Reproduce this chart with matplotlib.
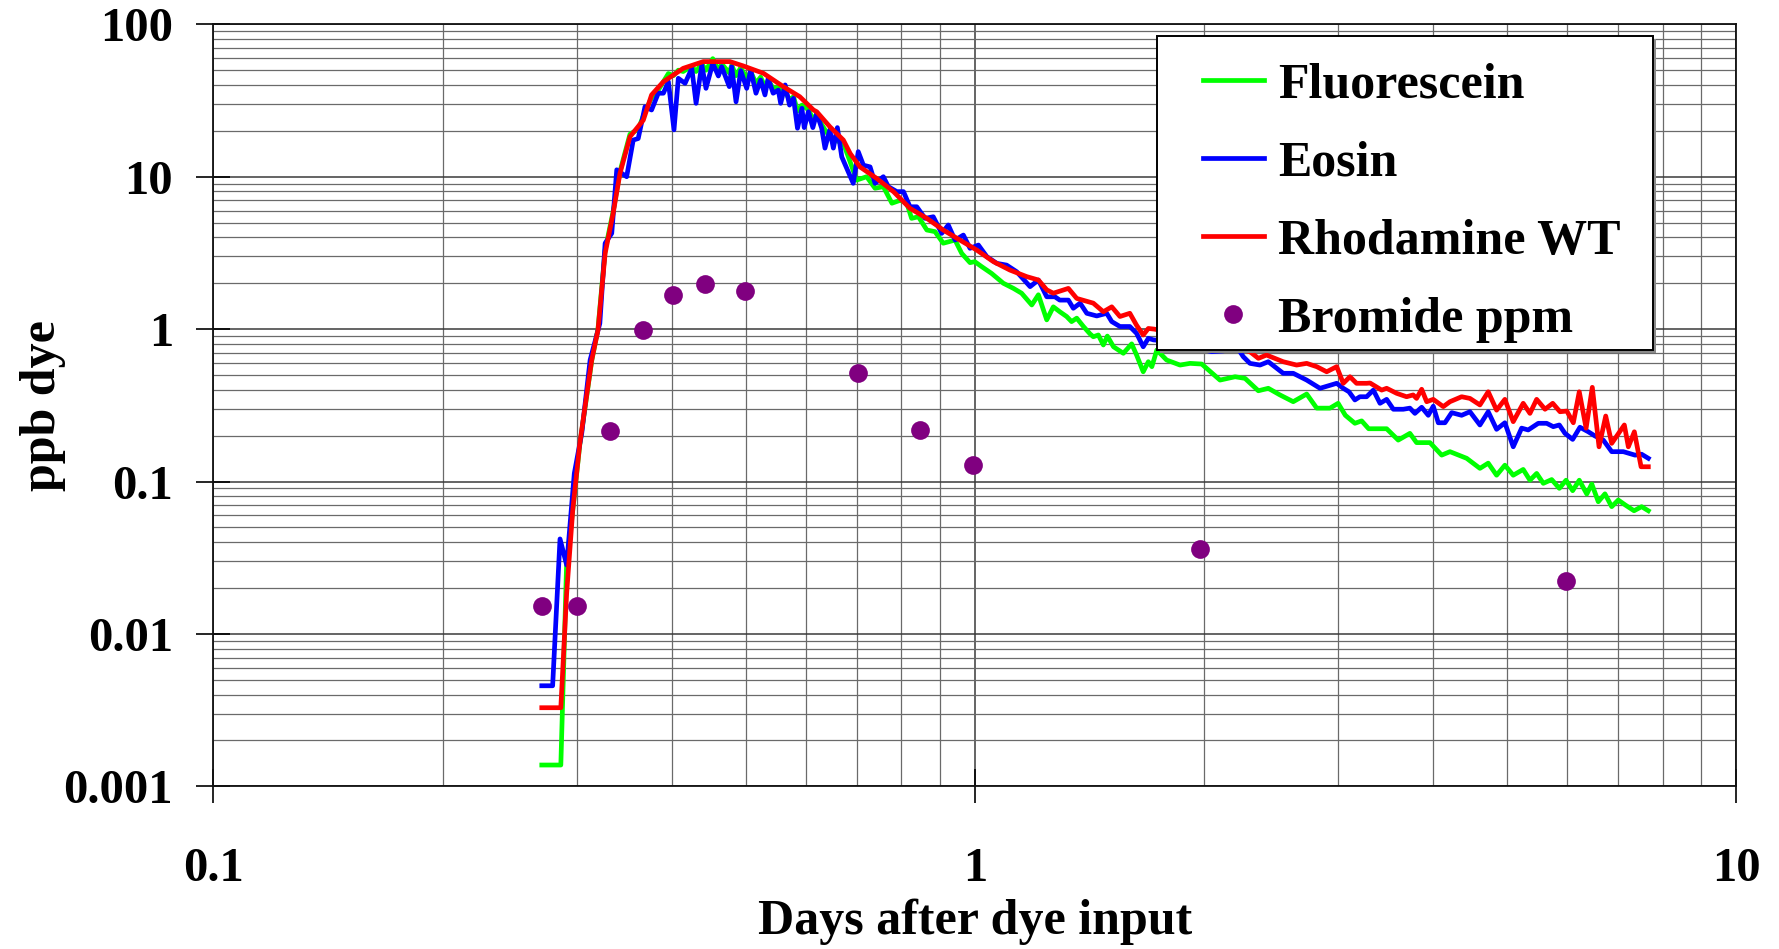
import numpy as np
import matplotlib
matplotlib.use("Agg")
import matplotlib.pyplot as plt
from matplotlib.ticker import LogLocator, NullFormatter, FixedLocator
from matplotlib.patches import Rectangle

# ---------------- data ----------------
fluor_x = [0.270, 0.286, 0.291, 0.2965, 0.3029, 0.314, 0.320, 0.327, 0.335, 0.342, 0.3525, 0.3614, 0.367,
           0.3763, 0.384, 0.390, 0.3959, 0.402, 0.408, 0.414, 0.425, 0.4305, 0.438, 0.4436, 0.4528, 0.4605,
           0.4652, 0.476, 0.4795, 0.4858, 0.4928, 0.5017, 0.5078, 0.516, 0.5233, 0.5302, 0.5354, 0.5435,
           0.552, 0.5636, 0.5711, 0.578, 0.585, 0.5929, 0.6047, 0.6128, 0.620, 0.6294, 0.639, 0.652, 0.672,
           0.686, 0.6995, 0.7211, 0.7396, 0.7584, 0.7783, 0.7981, 0.8143, 0.826, 0.8432, 0.865, 0.8866,
           0.909, 0.942, 0.9612, 0.9856, 1.0, 1.021, 1.052, 1.090, 1.124, 1.152, 1.188, 1.212, 1.243, 1.268,
           1.293, 1.32, 1.34, 1.361, 1.389, 1.417, 1.431, 1.453, 1.475, 1.493, 1.521, 1.567, 1.607, 1.631,
           1.664, 1.69, 1.708, 1.734, 1.786, 1.86, 1.917, 1.986, 2.099, 2.197, 2.264, 2.357, 2.429, 2.516,
           2.619, 2.728, 2.812, 2.927, 3.0, 3.066, 3.156, 3.221, 3.29, 3.474, 3.598, 3.727, 3.803, 3.96,
           4.103, 4.207, 4.425, 4.606, 4.723, 4.844, 4.967, 5.094, 5.25, 5.358, 5.468, 5.579, 5.722, 5.856,
           5.976, 6.097, 6.22, 6.363, 6.46, 6.588, 6.722, 6.861, 6.998, 7.15, 7.34, 7.51, 7.664]
fluor_y = [0.00138, 0.00138, 0.028, 0.065, 0.175, 0.62, 1.0, 3.3, 5.9, 10.8, 19.0, 20.5, 25.0,
           33.0, 37.0, 42.0, 47.5, 46.0, 50.0, 49.0, 53.0, 49.0, 55.0, 50.0, 59.5, 50.0,
           55.0, 48.0, 54.0, 46.0, 52.0, 44.0, 49.0, 41.0, 45.0, 39.0, 43.0, 38.0,
           38.5, 36.0, 32.0, 33.5, 27.0, 29.5, 27.5, 24.0, 25.5, 22.0, 19.5, 17.5, 16.6,
           12.5, 9.5, 10.0, 8.4, 8.6, 6.7, 7.0, 6.7, 5.33, 5.46, 4.47, 4.36,
           3.66, 3.84, 3.14, 2.73, 2.77, 2.57, 2.32, 2.0, 1.85, 1.72, 1.44, 1.68, 1.15, 1.40,
           1.30, 1.21, 1.12, 1.18, 1.04, 0.93, 0.891, 0.915, 0.787, 0.90, 0.766, 0.694, 0.80, 0.676,
           0.525, 0.611, 0.567, 0.729, 0.627, 0.581, 0.596, 0.59, 0.463, 0.487, 0.475, 0.394, 0.409, 0.37,
           0.334, 0.375, 0.303, 0.303, 0.326, 0.272, 0.241, 0.25, 0.222, 0.222, 0.187, 0.207, 0.180, 0.180,
           0.149, 0.157, 0.142, 0.122, 0.132, 0.110, 0.128, 0.110, 0.120, 0.102, 0.113, 0.0973, 0.103, 0.0902,
           0.102, 0.0871, 0.102, 0.0828, 0.0963, 0.0737, 0.083, 0.0684, 0.0756, 0.0701, 0.0643, 0.0684, 0.0643]

eosin_x = [0.270, 0.279, 0.2853, 0.2911, 0.2979, 0.3047, 0.3125, 0.3218, 0.327, 0.3336, 0.3387, 0.349, 0.356,
           0.3614, 0.3689, 0.3763, 0.384, 0.390, 0.3959, 0.4027, 0.408, 0.4164, 0.425, 0.4305, 0.438, 0.4436,
           0.4528, 0.4605, 0.4652, 0.476, 0.4795, 0.4858, 0.4928, 0.5017, 0.5078, 0.516, 0.5233, 0.5302,
           0.5354, 0.5435, 0.552, 0.556, 0.5636, 0.5711, 0.578, 0.585, 0.5929, 0.597, 0.6047, 0.6128, 0.620,
           0.6294, 0.6357, 0.645, 0.652, 0.660, 0.6688, 0.6924, 0.703, 0.714, 0.7286, 0.7396, 0.7584, 0.770,
           0.790, 0.806, 0.822, 0.839, 0.8605, 0.882, 0.9048, 0.923, 0.942, 0.966, 0.9856, 1.011, 1.037,
           1.069, 1.101, 1.135, 1.182, 1.212, 1.243, 1.274, 1.293, 1.327, 1.347, 1.375, 1.403, 1.446, 1.49,
           1.513, 1.551, 1.598, 1.631, 1.664, 1.69, 1.716, 1.80, 1.90, 1.98, 2.047, 2.12, 2.208, 2.252, 2.298,
           2.369, 2.429, 2.541, 2.619, 2.728, 2.84, 2.987, 3.047, 3.10, 3.156, 3.204, 3.27, 3.337, 3.405,
           3.474, 3.545, 3.653, 3.727, 3.784, 3.862, 3.94, 4.0, 4.061, 4.144, 4.229, 4.358, 4.469, 4.606,
           4.723, 4.844, 4.967, 5.094, 5.225, 5.33, 5.495, 5.636, 5.75, 5.856, 5.957, 6.097, 6.233, 6.392,
           6.523, 6.689, 6.861, 7.106, 7.362, 7.51, 7.664]
eosin_y = [0.00457, 0.00457, 0.042, 0.0283, 0.113, 0.208, 0.627, 1.09, 3.66, 4.25, 11.1, 10.0, 17.4,
           17.8, 28.8, 27.4, 35.3, 35.3, 42.0, 20.3, 44.2, 41.0, 51.4, 30.3, 54.1, 38.0,
           55.5, 45.8, 52.7, 39.0, 52.7, 31.0, 49.6, 38.0, 50.1, 35.3, 43.1, 34.4,
           44.2, 35.3, 37.0, 30.3, 40.0, 29.5, 32.7, 20.8, 28.1, 21.0, 26.7, 21.0, 26.1,
           20.8, 15.4, 20.3, 15.4, 21.0, 13.5, 9.05, 14.6, 11.9, 11.6, 9.05, 10.0, 8.6,
           7.98, 7.98, 6.35, 6.35, 5.33, 5.46, 4.25, 4.82, 3.84, 4.14, 3.39, 3.56, 2.99,
           2.70, 2.63, 2.38, 1.90, 2.10, 1.63, 1.63, 1.55, 1.55, 1.37, 1.48, 1.27, 1.22, 1.27,
           1.12, 1.04, 1.04, 0.938, 0.766, 0.870, 0.85, 0.83, 0.78, 0.74, 0.711, 0.72, 0.766, 0.659, 0.596,
           0.581, 0.611, 0.513, 0.513, 0.463, 0.409, 0.441, 0.409, 0.388, 0.343, 0.36, 0.36, 0.398, 0.326,
           0.346, 0.298, 0.298, 0.303, 0.280, 0.307, 0.272, 0.312, 0.243, 0.243, 0.283, 0.272, 0.287, 0.235,
           0.287, 0.220, 0.243, 0.169, 0.224, 0.218, 0.241, 0.241, 0.229, 0.235, 0.207, 0.189, 0.227, 0.212,
           0.199, 0.187, 0.157, 0.157, 0.149, 0.151, 0.142]

rhod_x = [0.270, 0.286, 0.2911, 0.2965, 0.3029, 0.314, 0.320, 0.327, 0.335, 0.342, 0.3525, 0.367, 0.3763,
          0.390, 0.402, 0.414, 0.440, 0.477, 0.4966, 0.5277, 0.5605, 0.589, 0.614, 0.620, 0.645, 0.672,
          0.686, 0.7066, 0.743, 0.782, 0.822, 0.865, 0.909, 0.956, 1.006, 1.058, 1.112, 1.17, 1.212, 1.243,
          1.268, 1.327, 1.361, 1.431, 1.475, 1.513, 1.551, 1.598, 1.631, 1.664, 1.69, 1.72, 1.82, 1.93,
          2.05, 2.18, 2.298, 2.357, 2.416, 2.541, 2.646, 2.728, 2.812, 2.898, 2.987, 3.047, 3.109, 3.172,
          3.27, 3.304, 3.422, 3.474, 3.581, 3.69, 3.764, 3.803, 3.862, 3.921, 4.0, 4.123, 4.207, 4.358,
          4.469, 4.606, 4.723, 4.844, 4.967, 5.094, 5.25, 5.358, 5.468, 5.608, 5.74, 5.868, 5.99, 6.109,
          6.22, 6.35, 6.47, 6.603, 6.738, 6.861, 7.128, 7.215, 7.347, 7.498, 7.664]
rhod_y = [0.00328, 0.00328, 0.0185, 0.065, 0.178, 0.627, 0.986, 3.14, 5.75, 10.5, 18.3, 23.5, 34.4,
          42.0, 46.5, 51.4, 56.9, 56.9, 53.3, 47.7, 39.0, 33.5, 27.4, 26.7, 21.3, 17.4,
          14.2, 11.6, 9.76, 7.98, 6.2, 5.33, 4.47, 3.84, 3.30, 2.77, 2.44, 2.21, 2.10, 1.81,
          1.72, 1.85, 1.59, 1.48, 1.30, 1.40, 1.21, 1.27, 1.06, 0.915, 1.01, 1.0, 0.95, 0.88,
          0.82, 0.76, 0.711, 0.643, 0.676, 0.611, 0.581, 0.596, 0.567, 0.525, 0.567, 0.441, 0.487, 0.441,
          0.441, 0.443, 0.398, 0.409, 0.379, 0.360, 0.37, 0.351, 0.403, 0.334, 0.346, 0.310, 0.334, 0.360,
          0.351, 0.318, 0.388, 0.294, 0.346, 0.247, 0.326, 0.280, 0.346, 0.298, 0.326, 0.287, 0.29, 0.243,
          0.388, 0.224, 0.415, 0.169, 0.269, 0.178, 0.235, 0.169, 0.212, 0.125, 0.125]

bromide_x = [0.27, 0.30, 0.332, 0.367, 0.402, 0.442, 0.499, 0.702, 0.848, 0.996, 1.978, 5.97]
bromide_y = [0.0153, 0.0153, 0.215, 0.99, 1.67, 1.98, 1.79, 0.513, 0.218, 0.128, 0.036, 0.0223]

x_ticks = [0.1, 1, 10]
x_tick_labels = ["0.1", "1", "10"]
y_ticks = [0.001, 0.01, 0.1, 1, 10, 100]
y_tick_labels = ["0.001", "0.01", "0.1", "1", "10", "100"]

# ---------------- figure ----------------
plt.rcParams['font.family'] = ['Liberation Serif', 'DejaVu Serif']
plt.rcParams['font.weight'] = 'bold'

fig = plt.figure(figsize=(17.79, 9.49), dpi=100)
ax = fig.add_axes([0.1199, 0.1714, 0.8561, 0.8030])

ax.set_xscale('log')
ax.set_yscale('log')
ax.set_xlim(0.1, 10)
ax.set_ylim(0.001, 100)

ax.set_axisbelow(True)
ax.grid(True, which='major', color='#3a3a3a', linewidth=1.1)
ax.grid(True, which='minor', color='#6a6a6a', linewidth=0.9)

lw = 3.4
ax.plot(fluor_x, fluor_y, color='#00ff00', lw=lw, label='Fluorescein', solid_joinstyle='round', zorder=3)
ax.plot(eosin_x, eosin_y, color='#0000ff', lw=lw, label='Eosin', solid_joinstyle='round', zorder=4)
ax.plot(rhod_x, rhod_y, color='#ff0000', lw=lw, label='Rhodamine WT', solid_joinstyle='round', zorder=5)
ax.plot(bromide_x, bromide_y, linestyle='none', marker='o', markersize=13.5,
        color='#800080', markeredgewidth=0, label='Bromide ppm', zorder=6)

ax.xaxis.set_major_locator(FixedLocator(x_ticks))
ax.set_xticklabels(x_tick_labels)
ax.yaxis.set_major_locator(FixedLocator(y_ticks))
ax.set_yticklabels(y_tick_labels)
ax.xaxis.set_minor_locator(LogLocator(base=10, subs=np.arange(2, 10), numticks=50))
ax.yaxis.set_minor_locator(LogLocator(base=10, subs=np.arange(2, 10), numticks=50))
ax.xaxis.set_minor_formatter(NullFormatter())
ax.yaxis.set_minor_formatter(NullFormatter())

ax.tick_params(axis='both', which='major', direction='inout', length=24, width=1.2,
               color='black', labelsize=35)
ax.tick_params(axis='y', which='major', pad=17)
ax.tick_params(axis='x', which='major', pad=32)
ax.tick_params(axis='both', which='minor', length=0)
for lab in ax.get_xticklabels() + ax.get_yticklabels():
    lab.set_fontweight('bold')

for s in ax.spines.values():
    s.set_color('#111111')
    s.set_linewidth(1.3)

ax.set_xlabel('Days after dye input', fontsize=36, fontweight='bold', labelpad=5)
ax.set_ylabel('ppb dye', fontsize=36, fontweight='bold', labelpad=-2)

# legend box (frame drawn separately so its padding matches the original)
fx0, fx1 = 0.6196, 0.9453
fy0, fy1 = 0.5726, 0.9846
shadow = Rectangle((fx0 + 0.0020, fy0 - 0.0040), fx1 - fx0, fy1 - fy0, transform=ax.transAxes,
                   facecolor='#8a8a8a', edgecolor='none', zorder=8.9, clip_on=False)
frame = Rectangle((fx0, fy0), fx1 - fx0, fy1 - fy0, transform=ax.transAxes,
                  facecolor='white', edgecolor='black', linewidth=1.4, zorder=9, clip_on=False)
ax.add_patch(shadow)
ax.add_patch(frame)

handles, labels = ax.get_legend_handles_labels()
leg = ax.legend(handles, labels, loc='upper left', bbox_to_anchor=(0.6498, 0.9497),
                prop={'family': 'Liberation Serif', 'weight': 'bold', 'size': 36},
                frameon=False, borderpad=0, labelspacing=0.64, handlelength=1.22,
                handletextpad=0.28, borderaxespad=0, numpoints=1)
leg.set_zorder(10)

fig.savefig('out.png', dpi=100)
